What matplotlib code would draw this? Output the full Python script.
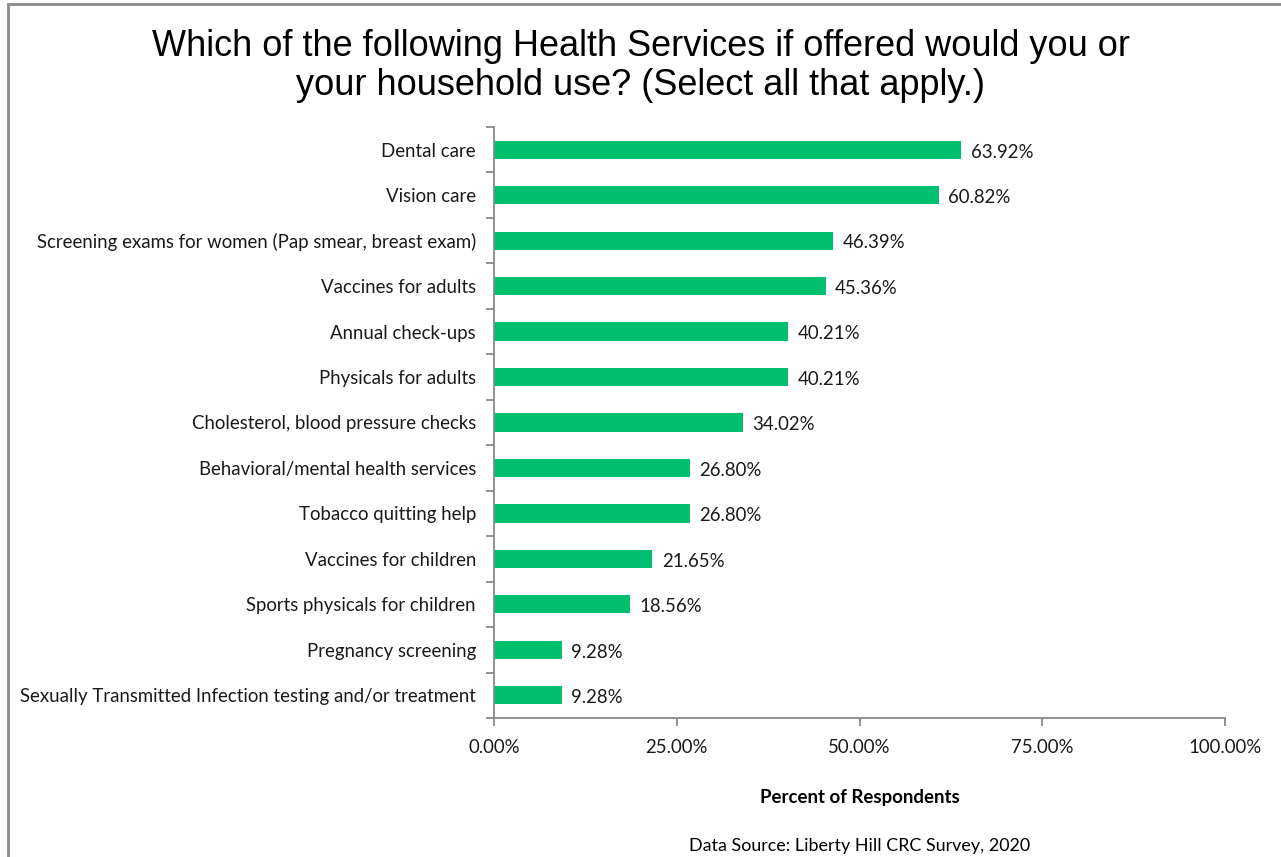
import matplotlib.pyplot as plt
from matplotlib.patches import Rectangle
from matplotlib.ticker import FuncFormatter

# Survey results, top to bottom
services = [
    "Dental care",
    "Vision care",
    "Screening exams for women (Pap smear, breast exam)",
    "Vaccines for adults",
    "Annual check-ups",
    "Physicals for adults",
    "Cholesterol, blood pressure checks",
    "Behavioral/mental health services",
    "Tobacco quitting help",
    "Vaccines for children",
    "Sports physicals for children",
    "Pregnancy screening",
    "Sexually Transmitted Infection testing and/or treatment",
]
percents = [63.92, 60.82, 46.39, 45.36, 40.21, 40.21, 34.02,
            26.80, 26.80, 21.65, 18.56, 9.28, 9.28]
x_ticks = [0, 25, 50, 75, 100]

label_font = "Lato"
label_size = 13.4
bar_color = "#00BF6F"
axis_gray = "#898989"

fig = plt.figure(figsize=(12.81, 8.57), dpi=100)
ax = fig.add_axes([494 / 1281, 1 - 718 / 857, (1225 - 494) / 1281, (718 - 127) / 857])

n = len(services)
ypos = list(range(n))[::-1]
ax.barh(ypos, percents, height=0.4, color=bar_color, zorder=2)

for y, v in zip(ypos, percents):
    ax.text(v + 1.3, y - 0.05, f"{v:.2f}%", va="center", ha="left",
            fontsize=label_size, family=label_font, color="#1a1a1a")

ax.set_xlim(0, 100)
ax.set_ylim(-0.5, n - 0.5)
ax.set_xticks(x_ticks)
ax.xaxis.set_major_formatter(FuncFormatter(lambda v, _: f"{v:.2f}%"))

# category labels sit between the boundary ticks
ax.set_yticks(ypos)
ax.set_yticklabels(services)
ax.set_yticks([i - 0.5 for i in range(n + 1)], minor=True)
ax.tick_params(axis="y", which="major", length=0, pad=13)
ax.tick_params(axis="y", which="minor", length=6, color=axis_gray, width=1.3)
ax.tick_params(axis="x", length=6, color=axis_gray, width=1.3, pad=9)
for lbl in ax.get_yticklabels() + ax.get_xticklabels():
    lbl.set_fontfamily(label_font)
    lbl.set_fontsize(label_size)
    lbl.set_color("#1a1a1a")

for side in ["top", "right"]:
    ax.spines[side].set_visible(False)
for side in ["left", "bottom"]:
    ax.spines[side].set_color(axis_gray)
    ax.spines[side].set_linewidth(1.3)

ax.set_xlabel("Percent of Respondents", fontsize=13.4, fontweight="bold",
              family=label_font, labelpad=24)

fig.text(0.5, 1 - 66 / 857,
         "Which of the following Health Services if offered would you or\n"
         "your household use? (Select all that apply.)",
         ha="center", va="center", fontsize=26, family="Liberation Sans",
         linespacing=1.14)

fig.text(860 / 1281, 1 - 846 / 857, "Data Source: Liberty Hill CRC Survey, 2020",
         ha="center", va="center", fontsize=12.9, family=label_font)

# chart frame
fig.patches.append(Rectangle((8 / 1281, -0.1), 1.2, 1 - 4 / 857 + 0.1,
                             transform=fig.transFigure, fill=False,
                             edgecolor="#8c8c8c", linewidth=2))

fig.savefig("out.png", dpi=100)
